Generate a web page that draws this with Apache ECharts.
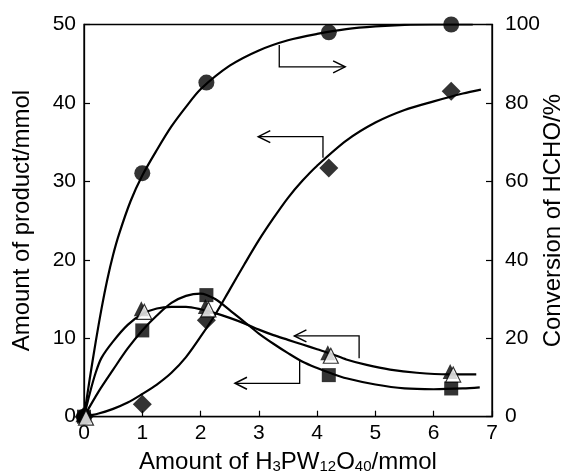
<!DOCTYPE html>
<html><head><meta charset="utf-8">
<script src="https://cdn.jsdelivr.net/npm/echarts@6/dist/echarts.min.js"></script>
<style>html,body{margin:0;padding:0;background:#fff}#c{width:567px;height:476px}</style>
</head><body><div id="c"></div>
<script>
// x positions of measurements (mmol H3PW12O40)
const xPts = [0, 1.0, 2.1, 4.2, 6.3];
// product amounts (mmol, left axis)
const diamondVals = [0, 1.6, 12.3, 31.7, 41.5];
const squareVals = [0, 11.0, 15.5, 5.3, 3.6];
const triangleVals = [0, 13.5, 13.8, 7.9, 5.5];
// conversion of HCHO (%, right axis)
const circleVals = [0, 62.1, 85.2, 98.0, 100];

// fitted curves
const circleCurve = [[0,0],[0.1,9.8],[0.2,19],[0.3,27.5],[0.4,35],[0.5,41.3],[0.6,46.5],[0.8,55],[1.0,61.5],[1.25,68],[1.5,74],[1.75,79],[2.0,83.5],[2.5,89.5],[3.0,93.4],[3.5,96],[4.0,97.6],[4.5,98.8],[5.0,99.5],[5.5,99.9],[6.0,100],[6.67,100]];
const triangleCurve = [[0,0],[0.1,3.0],[0.2,5.6],[0.3,7.5],[0.5,9.6],[0.75,11.7],[1.0,13.1],[1.25,13.8],[1.5,14.0],[1.75,14.0],[2.0,13.7],[2.25,13.2],[2.5,12.6],[2.75,11.9],[3.0,11.1],[3.25,10.4],[3.5,9.8],[3.75,9.2],[4.0,8.6],[4.25,8.0],[4.5,7.3],[4.85,6.6],[5.25,6.0],[5.71,5.6],[6.25,5.4],[6.73,5.4]];
const squareCurve = [[0,0],[0.25,3.2],[0.5,6.0],[0.75,8.7],[1.0,11.0],[1.25,12.9],[1.5,14.5],[1.75,15.4],[2.0,15.7],[2.25,15.0],[2.5,13.6],[2.75,12.1],[3.0,10.6],[3.25,9.3],[3.5,8.1],[3.75,7.0],[4.0,6.2],[4.25,5.5],[4.5,4.9],[5.0,4.1],[5.5,3.6],[6.0,3.5],[6.5,3.6],[6.79,3.75]];
const diamondCurve = [[0,0],[0.25,0.4],[0.5,1.0],[0.75,1.8],[1.0,2.9],[1.25,4.1],[1.5,5.6],[1.75,7.6],[2.0,10.2],[2.25,13.0],[2.5,16.2],[2.75,19.4],[3.0,22.5],[3.25,25.3],[3.5,27.9],[3.75,30.1],[4.0,32.0],[4.5,35.2],[5.0,37.5],[5.5,39.1],[6.0,40.2],[6.5,41.2],[6.81,41.7]];

// annotation arrows (data coords, left axis); last point is arrow tip
const arrowPaths = [
  [[3.35,47.4],[3.35,44.6],[4.48,44.6]],
  [[4.10,33.0],[4.10,35.7],[2.99,35.7]],
  [[4.72,7.45],[4.72,10.3],[3.61,10.3]],
  [[3.70,7.2],[3.70,4.26],[2.59,4.26]]
];

const xTicks = [0,1,2,3,4,5,6,7];

const FONT = 'Liberation Sans, Arial, sans-serif';
const TICK_FS = 21, TITLE_FS = 24;
const chart = echarts.init(document.getElementById('c'), null, {renderer:'canvas'});
const pair = (xs, ys) => xs.map((x,i)=>[x, ys[i]]);
const axisCommon = {
  nameMoveOverlap:false,
  axisLine:{show:true, lineStyle:{color:'#000', width:1.3}},
  axisTick:{show:true, inside:true, length:6, lineStyle:{color:'#000', width:1.2}},
  splitLine:{show:false},
  axisLabel:{color:'#000', fontSize:TICK_FS, fontFamily:FONT},
  nameTextStyle:{color:'#000', fontSize:TITLE_FS, fontFamily:FONT}
};
const curveStyle = {color:'#000', width:2.2};
const option = {
  animation:false,
  backgroundColor:'#fff',
  grid:{left:84, right:75, top:24.5, bottom:59.3, show:true, borderColor:'#000', borderWidth:1.3,
        containLabel:false, outerBoundsMode:'none'},
  xAxis:[Object.assign({}, axisCommon, {
    type:'value', min:0, max:7, interval:1,
    axisLabel:Object.assign({}, axisCommon.axisLabel, {margin:6, formatter:(v)=> xTicks.includes(v)? String(v):''}),
    name:'{n|Amount of H}{s|3}{n|PW}{s|12}{n|O}{s|40}{n|/mmol}', nameLocation:'middle', nameGap:34,
    nameTextStyle:{color:'#000', fontFamily:FONT, rich:{
      n:{fontSize:TITLE_FS, fontFamily:FONT, color:'#000'},
      s:{fontSize:15, fontFamily:FONT, color:'#000', verticalAlign:'bottom', padding:[6,0,0,0]}
    }}
  })],
  yAxis:[
    Object.assign({}, axisCommon, {type:'value', min:0, max:50, interval:10, position:'left',
      axisLabel:Object.assign({}, axisCommon.axisLabel, {margin:8}),
      name:'Amount of product/mmol', nameLocation:'middle', nameGap:50}),
    Object.assign({}, axisCommon, {type:'value', min:0, max:100, interval:20, position:'right',
      axisLabel:Object.assign({}, axisCommon.axisLabel, {margin:13}),
      name:'Conversion of HCHO/%', nameLocation:'middle', nameGap:49})
  ],
  series:[
    {type:'line', yAxisIndex:1, data:circleCurve, smooth:0.3, showSymbol:false, lineStyle:curveStyle, z:2},
    {type:'line', yAxisIndex:0, data:triangleCurve, smooth:0.3, showSymbol:false, lineStyle:curveStyle, z:2},
    {type:'line', yAxisIndex:0, data:squareCurve, smooth:0.3, showSymbol:false, lineStyle:curveStyle, z:2},
    {type:'line', yAxisIndex:0, data:diamondCurve, smooth:0.3, showSymbol:false, lineStyle:curveStyle, z:2},
    {type:'scatter', yAxisIndex:1, data:pair(xPts, circleVals), symbol:'circle', symbolSize:16, itemStyle:{color:'#000'}, z:5},
    {type:'scatter', yAxisIndex:0, data:pair(xPts, diamondVals), symbol:'diamond', symbolSize:[19,19], itemStyle:{color:'#000'}, z:5},
    {type:'scatter', yAxisIndex:0, data:pair(xPts, squareVals), symbol:'rect', symbolSize:14, itemStyle:{color:'#000'}, z:5},
    {type:'scatter', yAxisIndex:0, data:pair(xPts, triangleVals), symbol:'triangle', symbolSize:15, symbolOffset:[-1,-2], itemStyle:{color:'#000'}, z:6},
    {type:'scatter', yAxisIndex:0, data:pair(xPts, triangleVals), symbol:'triangle', symbolSize:15, symbolOffset:[2,1], itemStyle:{color:'#fff', borderColor:'#000', borderWidth:1.2}, z:7}
  ]
};
chart.setOption(option);

// draw arrows from data coordinates
const graphics = [];
arrowPaths.forEach(path=>{
  const px = path.map(p=>chart.convertToPixel({xAxisIndex:0, yAxisIndex:0}, p));
  graphics.push({type:'polyline', shape:{points:px}, style:{stroke:'#000', lineWidth:1.3, fill:null}, z:10});
  const tip = px[px.length-1], prev = px[px.length-2];
  const dir = Math.sign(tip[0]-prev[0]);
  graphics.push({type:'polyline', shape:{points:[[tip[0]-dir*12, tip[1]-6],[tip[0],tip[1]],[tip[0]-dir*12, tip[1]+6]]},
    style:{stroke:'#000', lineWidth:1.5, fill:null}, z:10});
});
chart.setOption({graphic:graphics});
</script>
</body></html>
